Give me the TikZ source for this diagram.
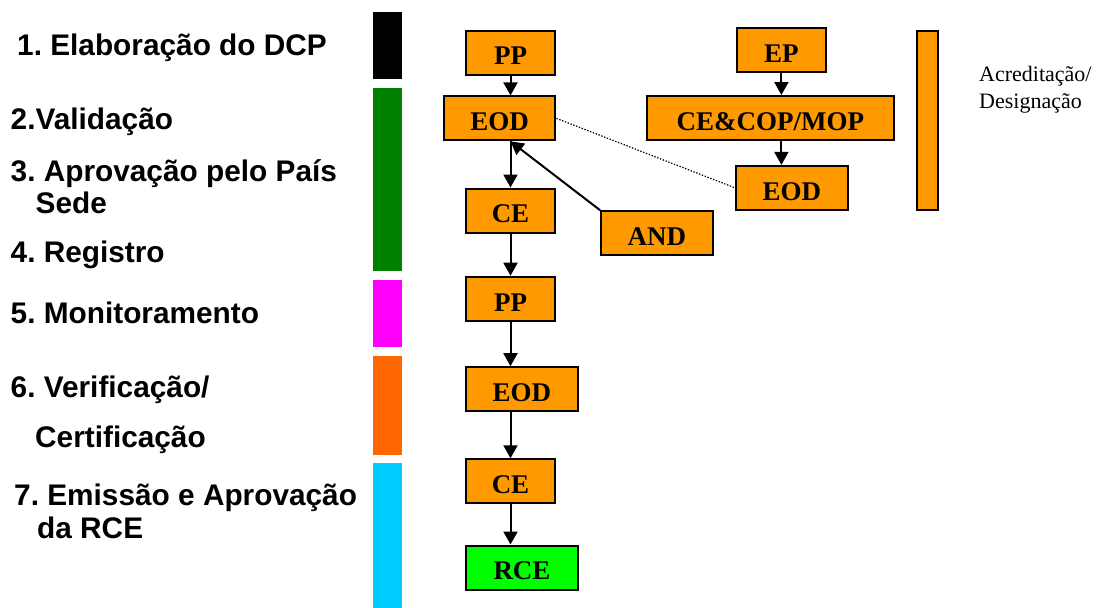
\documentclass[tikz,border=0pt]{standalone}
\usepackage{fontspec}
\setmainfont{Liberation Serif}
\newfontfamily\labelfont{Liberation Sans}
\usetikzlibrary{arrows.meta}
\definecolor{boxorange}{RGB}{255,153,0}
\definecolor{boxgreen}{RGB}{0,255,0}
\definecolor{bargreen}{RGB}{0,128,0}
\definecolor{barmagenta}{RGB}{255,0,255}
\definecolor{barorange}{RGB}{255,102,0}
\definecolor{barcyan}{RGB}{0,204,255}
\frenchspacing
\begin{document}
\begin{tikzpicture}[x=1pt,y=-1pt,
  stagebox/.style={draw=black, line width=2pt, fill=boxorange, inner sep=0pt,
    minimum width=89pt, minimum height=44pt, text height=24.6pt, text depth=0pt,
    font=\fontsize{27}{30}\selectfont\bfseries},
  widebox/.style={stagebox, minimum width=111.5pt},
  lbl/.style={anchor=base west, inner sep=0pt, font=\labelfont\fontsize{29.8}{32}\selectfont\bfseries},
  sidetxt/.style={anchor=base west, inner sep=0pt, font=\fontsize{22}{26}\selectfont},
  arr/.style={line width=2pt, -{Triangle[length=13pt,width=14pt]}},
  dotline/.style={line width=1.2pt, dash pattern=on 1.4pt off 1.6pt}
]
\useasboundingbox (0,0) rectangle (1096,608);

% stage bars
\fill[black] (373,12) rectangle (402,79);
\fill[bargreen] (373,88) rectangle (402,271);
\fill[barmagenta] (373,280) rectangle (402,346.5);
\fill[barorange] (373,355.5) rectangle (402,454.5);
\fill[barcyan] (373,463) rectangle (402,608);

% stage labels
\node[lbl] (l1) at (17,55.5) {1. Elaboração do DCP};
\node[lbl] (l2) at (10.5,129.5) {2.Validação};
\node[lbl] (l3) at (10.5,181.7) {3. Aprovação pelo País};
\node[lbl] (l3b) at (35.5,213.8) {Sede};
\node[lbl] (l4) at (10.5,262) {4. Registro};
\node[lbl] (l5) at (10.5,323.5) {5. Monitoramento};
\node[lbl] (l6) at (10.5,397.5) {6. Verificação/};
\node[lbl] (l6b) at (35,447.5) {Certificação};
\node[lbl] (l7) at (14,505.5) {7. Emissão e Aprovação};
\node[lbl] (l7b) at (37,538.5) {da RCE};

% boxes
\node[stagebox] (PP) at (510.5,52.5) {PP};
\node[widebox] (EOD) at (499.7,118.4) {EOD};
\node[stagebox] (CE) at (510.5,210.5) {CE};
\node[widebox] (AND) at (656.8,233.2) {AND};
\node[stagebox] (PPb) at (510.5,298.7) {PP};
\node[widebox] (EODb) at (521.9,389.2) {EOD};
\node[stagebox] (CEb) at (510.5,481.3) {CE};
\node[widebox, fill=boxgreen] (RCE) at (522,567.5) {RCE};
\node[stagebox] (EP) at (781.4,50.2) {EP};
\node[stagebox, minimum width=247.5pt] (CECOP) at (770.4,118) {CE\&COP/MOP};
\node[widebox] (EODr) at (791.9,187.9) {EOD};
\node[draw=black, line width=2pt, fill=boxorange, inner sep=0pt,
  minimum width=21pt, minimum height=179.5pt] (bar) at (927.5,120.4) {};

% side text
\node[sidetxt] (acr) at (979,81.7) {Acreditação/};
\node[sidetxt] (des) at (979,108.3) {Designação};

% connectors
\coordinate (eodb) at (PP.south |- EOD.south);
\draw[arr] (PP.south) -- (PP.south |- EOD.north);
\draw[arr] (eodb) -- (CE.north);
\draw[arr] (CE.south) -- (PPb.north);
\draw[arr] (PPb.south) -- (PPb.south |- EODb.north);
\draw[arr] (PPb.south |- EODb.south) -- (CEb.north);
\draw[arr] (CEb.south) -- (CEb.south |- RCE.north);
\draw[arr] (AND.north west) -- (eodb);
\draw[dotline] (EOD.east) -- (EODr.west);
\draw[arr] (EP.south) -- (EP.south |- CECOP.north);
\draw[arr] (EP.south |- CECOP.south) -- (EP.south |- EODr.north);
\end{tikzpicture}
\end{document}
